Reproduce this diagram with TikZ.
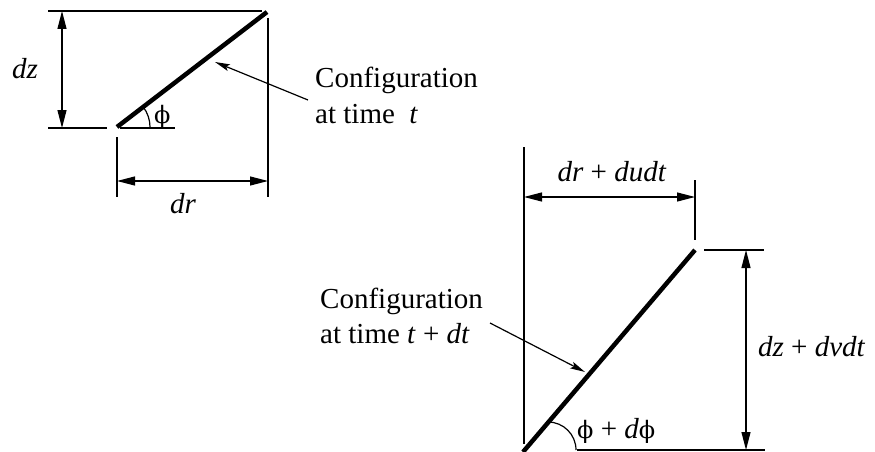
\documentclass[tikz,border=0pt]{standalone}
\usepackage{fontspec}
\setmainfont{Liberation Serif}
\newfontfamily\phifont{DejaVu Serif}
\usetikzlibrary{positioning,arrows.meta,calc}
\tikzset{
  dimarr/.style={{Triangle[length=18pt,width=9pt]}-{Triangle[length=18pt,width=9pt]},line width=1.2pt},
  extln/.style={line width=1.2pt},
  rod/.style={line width=4.5pt},
  leader/.style={-{Stealth[length=15pt,width=7pt,inset=3pt]},line width=1.2pt},
  lbl/.style={font=\fontsize{29}{35}\selectfont,inner sep=0pt},
}
\newcommand{\phisym}{{\phifont ϕ}}

\begin{document}
\begin{tikzpicture}[x=1pt,y=-1pt]
  \useasboundingbox (0,0) rectangle (875,452);
  % ---- configuration at time t ----
  \coordinate (a0) at (117,127);
  \coordinate (b0) at (267,12);
  \draw[rod] (a0) -- (b0);
  \coordinate (topL) at (48,11);  \coordinate (topR) at (262,11);
  \coordinate (botL) at (48,128); \coordinate (botR) at (107,128);
  \draw[extln] (topL) -- (topR);
  \draw[extln] (botL) -- (botR);
  \coordinate (dzT) at (62,11); \coordinate (dzB) at (62,128);
  \draw[dimarr] (dzT) -- (dzB);
  \node[lbl,anchor=base east] (dz) at (38,78) {\textit{dz}};
  \coordinate (rxT) at (268,18);  \coordinate (rxB) at (268,197);
  \coordinate (lxT) at (117,137); \coordinate (lxB) at (117,197);
  \draw[extln] (rxT) -- (rxB);
  \draw[extln] (lxT) -- (lxB);
  \coordinate (drL) at (117,181); \coordinate (drR) at (268,181);
  \draw[dimarr] (drL) -- (drR);
  \node[lbl,anchor=base] (dr) at (183,213) {\textit{dr}};
  % angle
  \coordinate (phL) at (120,128); \coordinate (phR) at (175,128);
  \draw[extln] (phL) -- (phR);
  \draw[extln] ($(a0)+(33,0)$) arc[start angle=0,end angle=-37,radius=33];
  \node[lbl,anchor=base west,font=\fontsize{24}{28}\selectfont] (phi) at (154,123) {\phisym};
  % label
  \node[lbl,anchor=base west] (cfg) at (315,88) {Configuration};
  \node[lbl,anchor=base west] (cfgt) at (315,123) {at time\ \ \textit{t}};
  \coordinate (ld0) at (308,100); \coordinate (lp0) at (215,62);
  \draw[leader] (ld0) -- (lp0);

  % ---- configuration at time t + dt ----
  \coordinate (a1) at (523,452);
  \coordinate (b1) at (695,250);
  \draw[rod] (a1) -- (b1);
  \coordinate (lx1T) at (524,147); \coordinate (lx1B) at (524,444);
  \coordinate (rx1T) at (695,180); \coordinate (rx1B) at (695,240);
  \draw[extln] (lx1T) -- (lx1B);
  \draw[extln] (rx1T) -- (rx1B);
  \coordinate (duL) at (524,197); \coordinate (duR) at (695,197);
  \draw[dimarr] (duL) -- (duR);
  \node[lbl,anchor=base] (drdu) at (612,181) {\textit{dr} + \textit{dudt}};
  \coordinate (tyL) at (704,250); \coordinate (tyR) at (764,250);
  \coordinate (byL) at (577,450); \coordinate (byR) at (765,450);
  \draw[extln] (tyL) -- (tyR);
  \draw[extln] (byL) -- (byR);
  \coordinate (dvT) at (746,250); \coordinate (dvB) at (746,450);
  \draw[dimarr] (dvT) -- (dvB);
  \node[lbl,anchor=base west] (dzdv) at (758,356) {\textit{dz} + \textit{dvdt}};
  % angle
  \coordinate (ar1) at (548,422);
  \draw[extln] (ar1) arc[start angle=-90,end angle=0,radius=28];
  \node[lbl,anchor=base west] (phidphi) at (577,438) {{\fontsize{24}{28}\selectfont\phisym} + \textit{d}{\fontsize{24}{28}\selectfont\phisym}};
  % label
  \node[lbl,anchor=base west] (cfg1) at (320,308) {Configuration};
  \node[lbl,anchor=base west] (cfg1t) at (320,343) {at time \textit{t} + \textit{dt}};
  \coordinate (ld1) at (490,323); \coordinate (lp1) at (585,372);
  \draw[leader] (ld1) -- (lp1);
\end{tikzpicture}
\end{document}
